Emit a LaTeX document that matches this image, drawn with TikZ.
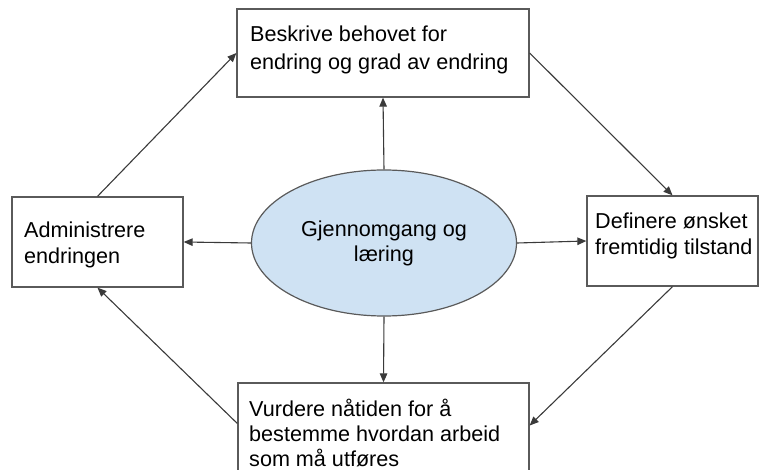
\documentclass[tikz,border=0pt]{standalone}
\usepackage{fontspec}
\setmainfont{Liberation Sans}
\usetikzlibrary{shapes.geometric,arrows.meta}
\definecolor{edgegray}{HTML}{5A5A5A}
\definecolor{arrowgray}{HTML}{3A3A3A}
\definecolor{ellfill}{HTML}{CFE2F3}
\tikzset{
  stepbox/.style={draw=edgegray, line width=1.3pt, rectangle, inner sep=0pt},
  boxtext/.style={anchor=north west, align=left, inner sep=0pt,
    font=\fontsize{21.6}{26}\selectfont},
  hub/.style={ellipse, draw=edgegray, line width=1.2pt, fill=ellfill, inner sep=0pt,
    align=center, font=\fontsize{21.6}{25}\selectfont},
  flow/.style={draw=arrowgray, line width=1.1pt, -{Triangle[length=9pt,width=7.5pt]}},
}
\begin{document}
\begin{tikzpicture}[x=1pt,y=-1pt]
\useasboundingbox (0,0) rectangle (766,470);
\clip (0,0) rectangle (766,470);

% the four step boxes
\node[stepbox, minimum width=292pt, minimum height=88pt] (beskrive) at (383,53) {};
\node[stepbox, minimum width=171pt, minimum height=90pt] (administrere) at (97.5,242) {};
\node[stepbox, minimum width=171pt, minimum height=90pt] (definere) at (672.5,241) {};
\node[stepbox, minimum width=291pt, minimum height=97pt] (vurdere) at (383.5,431.5) {};

% box texts, set from the upper left corner
\node[boxtext, font=\fontsize{21.6}{27.5}\selectfont] (tbeskrive) at (250,26) {Beskrive behovet for\\endring og grad av endring};
\node[boxtext] (tadministrere) at (24,222) {Administrere\\endringen};
\node[boxtext] (tdefinere) at (595,213) {Definere ønsket\\fremtidig tilstand};
\node[boxtext, font=\fontsize{21.6}{25}\selectfont] (tvurdere) at (249,399) {Vurdere nåtiden for å\\bestemme hvordan arbeid\\som må utføres};

% central ellipse
\node[hub, minimum width=265pt, minimum height=146pt] (hub) at (384,243) {Gjennomgang og\\læring};

% spokes out of the centre
\draw[flow] (hub.north) -- (beskrive.south);
\draw[flow] (hub.south) -- (vurdere.north);
\draw[flow] (hub.west) -- (administrere.east);
\draw[flow] (hub.east) -- (definere.west);

% the outer cycle
\draw[flow] (administrere.north) -- (beskrive.west);
\draw[flow] (beskrive.east) -- (definere.north);
\draw[flow] (definere.south) -- ([yshift=6pt]vurdere.east);
\draw[flow] ([yshift=8pt]vurdere.west) -- (administrere.south);
\end{tikzpicture}
\end{document}
